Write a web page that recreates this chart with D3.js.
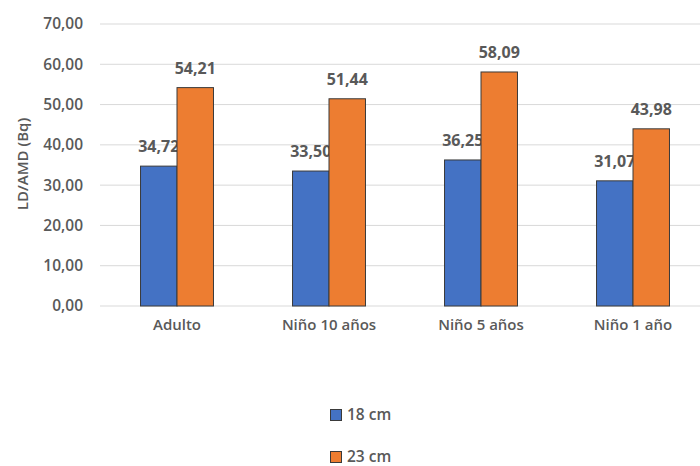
<!DOCTYPE html>
<html><head><meta charset="utf-8">
<script src="https://cdn.jsdelivr.net/npm/d3@7"></script>
<style>body{margin:0;background:#fff}svg{display:block}text{font-family:"Open Sans",sans-serif}</style>
</head><body>
<svg id="c" width="700" height="466"></svg>
<script>
const categories = ["Adulto", "Niño 10 años", "Niño 5 años", "Niño 1 año"];
const seriesNames = ["18 cm", "23 cm"];
const values18 = [34.72, 33.50, 36.25, 31.07];
const values23 = [54.21, 51.44, 58.09, 43.98];
const yTicks = [0, 10, 20, 30, 40, 50, 60, 70];
const colors = ["#4472C4", "#ED7D31"];

const svg = d3.select("#c");
const y = d3.scaleLinear().domain([0, 70]).range([306, 24]);
const x = d3.scaleBand().domain(categories).range([101, 709]).paddingInner(0.52).paddingOuter(0.26);
const fmt = v => v.toFixed(2).replace(".", ",");
const textCol = "#595959";

// gridlines
svg.append("g").selectAll("line").data(yTicks).join("line")
  .attr("x1", 100).attr("x2", 700)
  .attr("y1", d => y(d)).attr("y2", d => y(d))
  .attr("stroke", "#d9d9d9").attr("stroke-width", 1);

// y tick labels
svg.append("g").selectAll("text").data(yTicks).join("text")
  .attr("x", 83).attr("y", d => y(d)).attr("dy", "0.35em")
  .attr("text-anchor", "end").attr("font-size", 15.5).attr("font-weight", 600)
  .attr("fill", textCol).text(d => fmt(d));

// axis title
svg.append("text").attr("transform", "translate(23,164) rotate(-90)")
  .attr("text-anchor", "middle").attr("dy", "0.35em")
  .attr("font-size", 15).attr("font-weight", 600).attr("fill", textCol).text("LD/AMD (Bq)");

const series = [values18, values23];
const bw = x.bandwidth() / 2;
series.forEach((vals, si) => {
  const g = svg.append("g");
  g.selectAll("rect").data(vals).join("rect")
    .attr("x", (d, i) => x(categories[i]) + si * bw)
    .attr("y", d => y(d))
    .attr("width", bw)
    .attr("height", d => y(0) - y(d))
    .attr("fill", colors[si]).attr("stroke", "#3a3a3a").attr("stroke-width", 1);
  g.selectAll("text").data(vals).join("text")
    .attr("x", (d, i) => x(categories[i]) + si * bw + bw / 2)
    .attr("y", d => y(d) - 14)
    .attr("text-anchor", "middle").attr("font-size", 16).attr("font-weight", 700)
    .attr("fill", textCol).text(d => fmt(d));
});

// category labels
svg.append("g").selectAll("text").data(categories).join("text")
  .attr("x", d => x(d) + x.bandwidth() / 2).attr("y", 325).attr("dy", "0.35em")
  .attr("text-anchor", "middle").attr("font-size", 15).attr("font-weight", 600)
  .attr("fill", textCol).text(d => d);

// legend
const leg = svg.append("g").selectAll("g").data(seriesNames).join("g")
  .attr("transform", (d, i) => `translate(330,${415 + i * 42})`);
leg.append("rect").attr("x", 0.5).attr("y", -5.5).attr("width", 11).attr("height", 11)
  .attr("fill", (d, i) => colors[i]).attr("stroke", "#3a3a3a");
leg.append("text").attr("x", 17).attr("dy", "0.35em").attr("font-size", 15.5).attr("font-weight", 600)
  .attr("fill", textCol).text(d => d);
</script>
</body></html>
